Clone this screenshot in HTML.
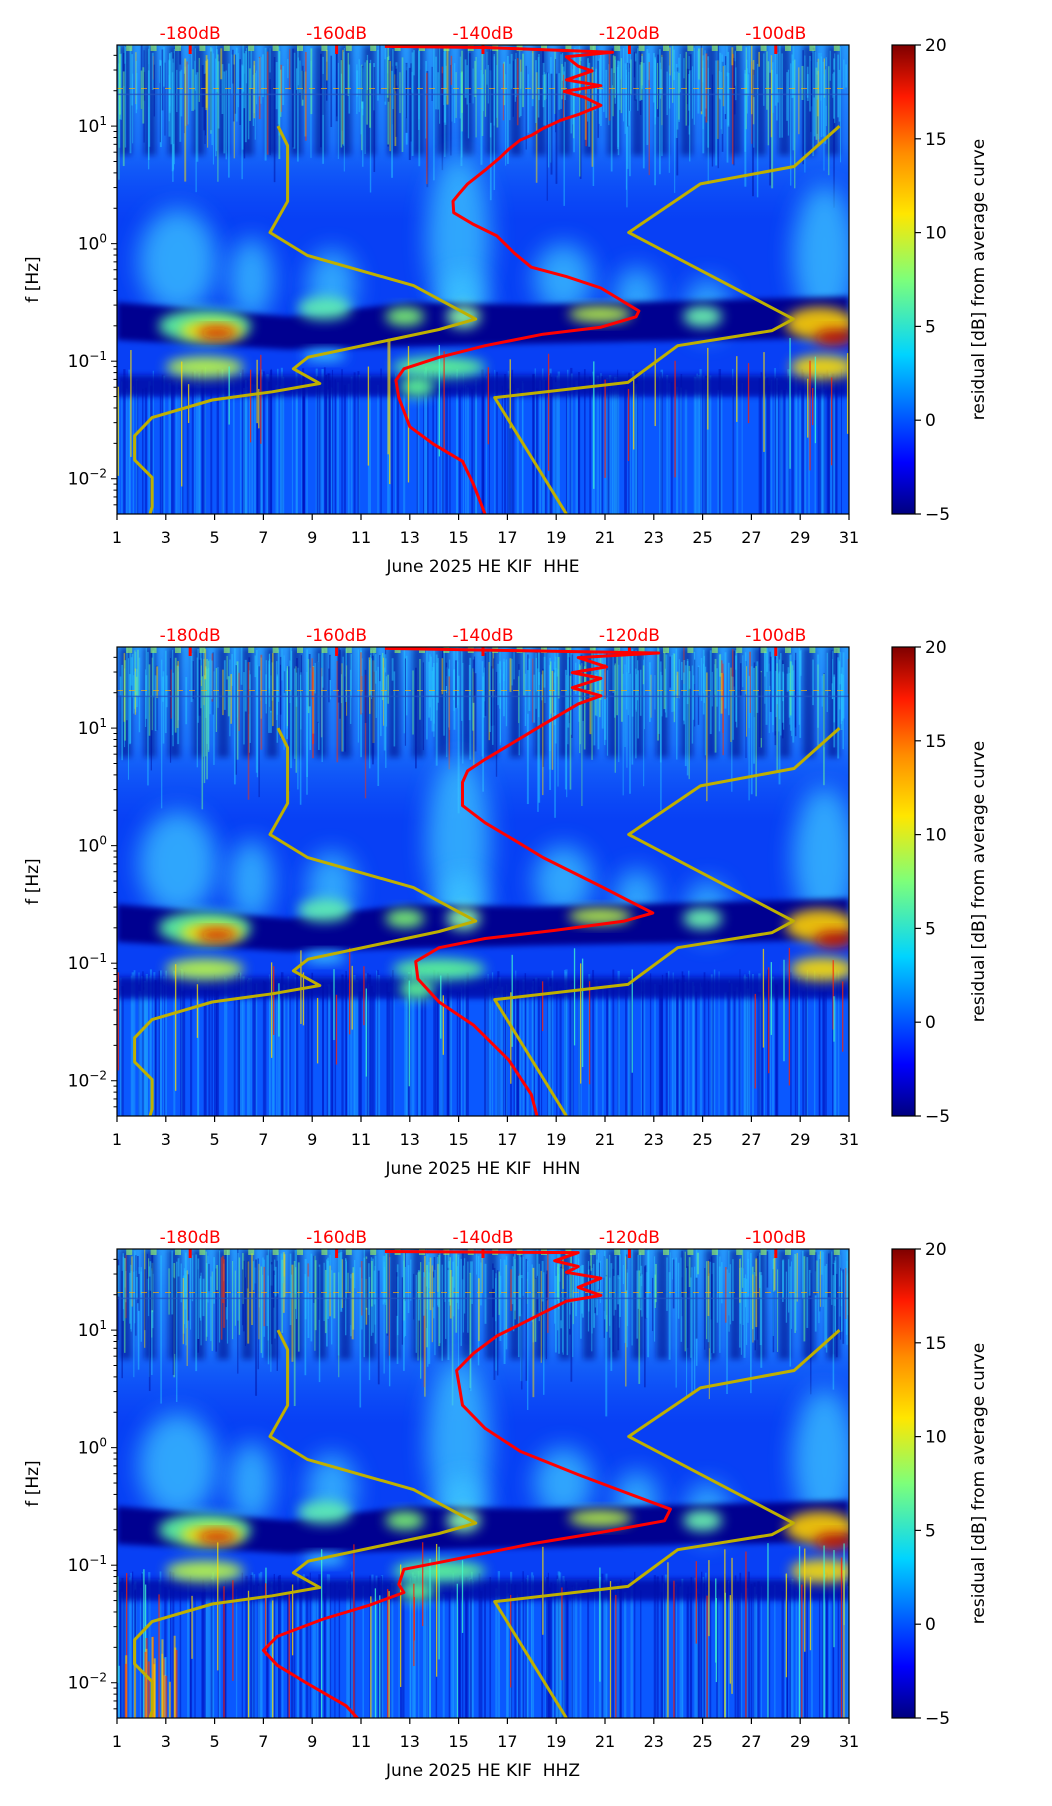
<!DOCTYPE html>
<html><head><meta charset="utf-8"><style>
html,body{margin:0;padding:0;background:#fff;width:1052px;height:1806px;overflow:hidden;}
svg{display:block;font-family:"DejaVu Sans","Liberation Sans",sans-serif;}
</style></head><body>
<svg id="fig" width="1052" height="1806" viewBox="0 0 1052 1806" xmlns="http://www.w3.org/2000/svg">
<defs>
<filter id="b6" x="-50%" y="-50%" width="200%" height="200%"><feGaussianBlur stdDeviation="6"/></filter>
<filter id="b12" x="-50%" y="-50%" width="200%" height="200%"><feGaussianBlur stdDeviation="12"/></filter>
<filter id="b3" x="-50%" y="-50%" width="200%" height="200%"><feGaussianBlur stdDeviation="3"/></filter>
<filter id="b2" x="-50%" y="-50%" width="200%" height="200%"><feGaussianBlur stdDeviation="2"/></filter>
<linearGradient id="jet" x1="0" y1="1" x2="0" y2="0">
<stop offset="0" stop-color="#00007f"/><stop offset="0.11" stop-color="#0000ff"/><stop offset="0.34" stop-color="#00d4ff"/>
<stop offset="0.5" stop-color="#7dff7a"/><stop offset="0.64" stop-color="#ffe600"/><stop offset="0.77" stop-color="#ff8c00"/>
<stop offset="0.89" stop-color="#ff1a00"/><stop offset="1" stop-color="#7f0000"/></linearGradient>
<linearGradient id="topfade" x1="0" y1="0" x2="0" y2="1">
<stop offset="0" stop-color="#30b8ff" stop-opacity="0.75"/><stop offset="0.55" stop-color="#2aa0ff" stop-opacity="0.5"/><stop offset="1" stop-color="#1a70ff" stop-opacity="0"/></linearGradient>
<linearGradient id="streakfade" x1="0" y1="0" x2="0" y2="1">
<stop offset="0" stop-color="#000" stop-opacity="0"/><stop offset="1" stop-color="#000" stop-opacity="0"/></linearGradient>
</defs>
</svg>
<script>
// ---- data ----
const days = [1,3,5,7,9,11,13,15,17,19,21,23,25,27,29,31];
const yTickExp = [-2,-1,0,1];
const dbTicks = [-180,-160,-140,-120,-100];
const cbTicks = [-5,0,5,10,15,20];
const channels = ["HHE","HHN","HHZ"];
// Peterson low noise model (dB, log10 Hz)
const nlnmDb = [-168.0,-166.7,-166.7,-169.1,-164.0,-149.5,-141.0,-146.0,-163.9,-165.9,-162.3,-168.8,-177.0,-185.2,-187.6,-187.6,-185.2,-185.2,-185.5];
const nlnmLogF = [1,0.833,0.36,0.095,-0.10,-0.357,-0.642,-0.73,-0.966,-1.065,-1.19,-1.26,-1.33,-1.48,-1.635,-1.84,-1.99,-2.24,-2.304];
// Peterson high noise model
const nhnmDb = [-91.3,-97.5,-110.3,-120.1,-97.6,-100.5,-113.4,-120.2,-138.4,-128.6];
const nhnmLogF = [1,0.656,0.508,0.095,-0.642,-0.74,-0.868,-1.18,-1.31,-2.30];
// average PSD per channel
const psdDbE = [-153.4,-139.7,-122.3,-128.6,-127.0,-125.1,-128.6,-123.9,-128.9,-126.2,-123.9,-127.0,-129.4,-131.8,-133.4,-134.9,-136.5,-137.8,-139.7,-142.1,-143.2,-144.1,-144.0,-141.3,-138.1,-135.7,-133.4,-128.6,-123.9,-118.7,-119.1,-123.9,-131.8,-139.7,-146.0,-150.8,-151.9,-151.5,-150.0,-146.8,-142.8,-141.3,-139.7];
const psdLogFE = [1.678,1.669,1.629,1.59,1.51,1.47,1.393,1.344,1.295,1.246,1.177,1.098,1.049,0.98,0.921,0.882,0.803,0.725,0.626,0.508,0.43,0.361,0.263,0.164,0.066,-0.082,-0.2,-0.28,-0.377,-0.573,-0.622,-0.711,-0.77,-0.868,-0.967,-1.065,-1.163,-1.311,-1.557,-1.704,-1.852,-2.048,-2.304];
const psdDbN = [-153.4,-116.0,-127.0,-123.1,-127.8,-123.9,-127.8,-123.9,-127.0,-131.8,-136.5,-139.7,-142.1,-142.8,-142.8,-139.7,-135.7,-131.8,-123.9,-116.8,-120.7,-130.2,-139.7,-146.0,-149.2,-148.9,-146.0,-141.3,-136.5,-133.4,-132.6];
const psdLogFN = [1.678,1.639,1.6,1.521,1.472,1.423,1.344,1.275,1.206,1.029,0.853,0.735,0.636,0.538,0.341,0.194,0.046,-0.101,-0.347,-0.573,-0.642,-0.721,-0.79,-0.868,-0.986,-1.134,-1.33,-1.527,-1.822,-2.117,-2.304];
const psdDbZ = [-153.4,-127.0,-130.2,-127.0,-128.6,-123.9,-127.0,-123.9,-128.6,-131.8,-134.9,-138.1,-141.3,-143.6,-143.2,-142.8,-139.7,-134.9,-127.0,-120.7,-114.4,-115.2,-123.9,-133.4,-139.7,-145.2,-150.8,-151.5,-150.8,-155.5,-161.8,-168.1,-170.0,-168.1,-164.2,-158.7,-157.1];
const psdLogFZ = [1.669,1.659,1.59,1.541,1.492,1.442,1.364,1.295,1.246,1.147,1.049,0.951,0.803,0.656,0.508,0.361,0.164,-0.032,-0.229,-0.377,-0.524,-0.622,-0.721,-0.819,-0.898,-0.967,-1.035,-1.163,-1.232,-1.34,-1.458,-1.606,-1.724,-1.852,-1.999,-2.196,-2.304];
const psdDb = [psdDbE, psdDbN, psdDbZ];
const psdLogF = [psdLogFE, psdLogFN, psdLogFZ];

// ---- layout ----
const NS = "http://www.w3.org/2000/svg";
const svg = document.getElementById('fig');
const L = 117, R = 849, H = 469, tops = [45, 647, 1249];
const LOGMIN = -2.30, LOGMAX = 1.69;
function X(day){ return L + (day-1)/30*(R-L); }
function dbToDay(db){ return 4 + (db+180)*0.3; }
function Xdb(db){ return X(dbToDay(db)); }
function mk(tag, attrs, parent){ const e = document.createElementNS(NS, tag); for (const k in attrs) e.setAttribute(k, attrs[k]); (parent||svg).appendChild(e); return e; }
let seed = 12345;
function rnd(){ seed = (seed*1103515245 + 12345) % 2147483648; return seed/2147483648; }

channels.forEach((ch, pi) => {
  const T = tops[pi];
  const Y = lf => T + (LOGMAX - lf)/(LOGMAX-LOGMIN)*H;
  const g = mk('g', {});
  
  
  const cid = 'clip' + pi;
  const cp = mk('clipPath', {id: cid}, g); mk('rect', {x:L, y:T, width:R-L, height:H}, cp);
  const sp = mk('g', {'clip-path': 'url(#'+cid+')'}, g);
  
  
  // base
  mk('rect', {x:L, y:T, width:R-L, height:H, fill:'#0840f5'}, sp);
  // bottom streak region
  mk('rect', {x:L, y:Y(-1.3), width:R-L, height:Y(LOGMIN)-Y(-1.3), fill:'#0a58ff'}, sp);
  for (let i=0;i<300;i++){ const x = L + rnd()*(R-L); const c = rnd()<0.5?'#1c9cff':'#0014c0';
    mk('rect', {x:x, y:Y(-1.25+rnd()*0.2), width:1+rnd()*1.5, height:H, fill:c, opacity:0.55}, sp); }
  // top textured region
  mk('rect', {x:L, y:T, width:R-L, height:Y(0.2)-T, fill:'url(#topfade)'}, sp);
  for (let d=1; d<31; d++){ mk('rect', {x:X(d+0.1), y:T, width:(R-L)/30*0.5, height:Y(0.75)-T, fill:'#00108a', opacity:0.6, filter:'url(#b3)'}, sp); }
  for (let i=0;i<500;i++){ const x = L + rnd()*(R-L); const r = rnd();
    const c = r<0.6?'#28c8ff':(r<0.72?'#70ff90':(r<0.9?'#0010a0':(r<0.96?'#ffe000':'#ff3000')));
    const len = (Y(0.4+rnd()*0.9)-T)*(0.3+rnd()*0.7);
    mk('rect', {x:x, y:T+rnd()*30, width:1+rnd(), height:len, fill:c, opacity:0.5}, sp); }
  for (let i=0;i<30;i++){ mk('rect', {x:X(1+i+0.5)-3, y:T, width:6, height:6, fill:'#a0ff60', opacity:0.6}, sp); }
  mk('line', {x1:L, x2:R, y1:Y(1.32), y2:Y(1.32), stroke:'#ffb000', 'stroke-width':1, 'stroke-dasharray':'6 6', opacity:0.7}, sp);
  mk('line', {x1:L, x2:R, y1:Y(1.27), y2:Y(1.27), stroke:'#2050c0', 'stroke-width':1.5, opacity:0.7}, sp);
  // cyan clouds
  const clouds = [[3.5,-0.15,1.6,0.45],[6.5,-0.3,0.9,0.35],[9.8,-0.35,1.0,0.3],[15,0.05,1.3,0.7],[15.2,-0.5,1.0,0.25],[19.3,-0.3,1.2,0.3],[22.3,-0.45,0.9,0.25],[25.2,-0.55,0.9,0.25],[30,-0.1,1.3,0.6]];
  clouds.forEach(c => mk('ellipse', {cx:X(c[0]), cy:Y(c[1]), rx:c[2]*24.4, ry:c[3]*117, fill:'#3cc8ff', opacity:0.75, filter:'url(#b12)'}, sp));
  // dark band
  mk('path', {d:`M${X(1)},${Y(-0.5)} L${X(8)},${Y(-0.62)} L${X(13)},${Y(-0.5)} L${X(18)},${Y(-0.52)} L${X(31)},${Y(-0.45)} L${X(31)},${Y(-0.8)} L${X(18)},${Y(-0.85)} L${X(8)},${Y(-0.9)} L${X(1)},${Y(-0.82)} Z`, fill:'#000590', filter:'url(#b3)'}, sp);
  mk('path', {d:`M${X(1)},${Y(-1.12)} L${X(31)},${Y(-1.12)} L${X(31)},${Y(-1.3)} L${X(1)},${Y(-1.3)} Z`, fill:'#0010a8', opacity:0.85, filter:'url(#b3)'}, sp);
  // band blobs
  const blobs = [[4.6,-0.7,1.9,0.14,'#60ffa0'],[4.9,-0.74,1.3,0.08,'#ffe000'],[5.1,-0.76,0.8,0.05,'#d00800'],[9.5,-0.55,1.1,0.1,'#60f0b0'],[12.8,-0.62,0.8,0.08,'#80ff70'],[15.2,-0.62,0.7,0.1,'#90ffa0'],[20.8,-0.6,1.3,0.07,'#c0ff40'],[25,-0.62,0.8,0.09,'#70ffb0'],[29.8,-0.68,1.4,0.14,'#ffd000'],[30.4,-0.8,0.8,0.07,'#c00800'],
    [4.6,-1.05,1.6,0.09,'#c0ff40'],[14.2,-1.05,1.9,0.09,'#60ff90'],[13.3,-1.22,0.7,0.09,'#60ff90'],[29.9,-1.05,1.3,0.1,'#ffe000'],[9.5,-0.95,0.9,0.05,'#40d0ff']];
  blobs.forEach(b => mk('ellipse', {cx:X(b[0]), cy:Y(b[1]), rx:b[2]*24.4, ry:b[3]*117, fill:b[4], opacity:0.9, filter:'url(#b6)'}, sp));
  // spikes
  for (let i=0;i<(pi==2?60:35);i++){ const x = L + rnd()*(R-L); const r=rnd(); const c = r<0.35?'#ff2000':(r<0.7?'#ffe000':'#40ffd0');
    const y0 = Y(-0.8 - rnd()*0.5); const y1 = pi==2 && rnd()<0.5 ? Y(LOGMIN) : Y(-1.5-rnd()*0.6);
    mk('rect', {x:x, y:y0, width:1.3, height:y1-y0, fill:c, opacity:0.75}, sp); }
  if (pi==2){ for (let i=0;i<25;i++){ const x=X(1+rnd()*2.6); mk('rect',{x:x,y:Y(-1.6-rnd()*0.4),width:2,height:H,fill:rnd()<0.5?'#ffd000':(rnd()<0.5?'#ff3000':'#40e0ff'),opacity:0.6},sp);} }
  // model curves
  function poly(dbs, lfs, color, w, name){
    const p = dbs.map((d,i)=>Xdb(d).toFixed(1)+','+Y(lfs[i]).toFixed(1)).join(' ');
    const e = mk('polyline', {points:p, fill:'none', stroke:color, 'stroke-width':w, 'stroke-linejoin':'round'}, sp);
    
    
  }
  poly(nlnmDb, nlnmLogF, '#bfb000', 3, 'nlnm-curve');
  poly(nhnmDb, nhnmLogF, '#bfb000', 3, 'nhnm-curve');
  poly(psdDb[pi], psdLogF[pi], '#ff0000', 3, 'average-psd-curve');
  // red top ticks
  dbTicks.forEach(d => mk('line', {x1:Xdb(d), x2:Xdb(d), y1:T, y2:T+9, stroke:'#ff0000', 'stroke-width':3}, g));
  // frame
  mk('rect', {x:L, y:T, width:R-L, height:H, fill:'none', stroke:'#000', 'stroke-width':1.2}, g);
  // x ticks
  days.forEach(d => { mk('line', {x1:X(d), x2:X(d), y1:T+H, y2:T+H+6, stroke:'#000', 'stroke-width':1.2}, g);
    const t = mk('text', {x:X(d), y:T+H+29, 'text-anchor':'middle', 'font-size':16, fill:'#000'}, g); t.textContent = d;
    
     });
  const xt = mk('text', {x:(L+R)/2, y:T+H+58, 'text-anchor':'middle', 'font-size':17, fill:'#000'}, g);
  xt.textContent = 'June 2025 HE KIF\u00a0\u00a0' + ch;
  
  
  // y ticks
  for (let e=-3;e<=1;e++){ for (let m=1;m<10;m++){ const lf = e + Math.log10(m); if (lf<LOGMIN||lf>LOGMAX) continue;
      mk('line', {x1:L-(m==1?6:3.5), x2:L, y1:Y(lf), y2:Y(lf), stroke:'#000', 'stroke-width':1}, g); } }
  yTickExp.forEach(e => { const t = mk('text', {x:L-10, y:Y(e)+6, 'text-anchor':'end', 'font-size':17, fill:'#000'}, g);
    t.innerHTML = '10<tspan dy="-7" font-size="12">' + (e<0?'\u2212':'') + Math.abs(e) + '</tspan>';
    
     });
  const yt = mk('text', {x:0, y:0, 'text-anchor':'middle', 'font-size':17, fill:'#000', transform:`translate(38,${T+H/2}) rotate(-90)`}, g);
  yt.textContent = 'f [Hz]';
  
  
  dbTicks.forEach(d => { const t = mk('text', {x:Xdb(d), y:T-6, 'text-anchor':'middle', 'font-size':17, fill:'#ff0000'}, g);
    t.textContent = d + 'dB';
    
     });
  // colorbar
  const cb = mk('g', {}, g);
  
  
  mk('rect', {x:892, y:T, width:23, height:H, fill:'url(#jet)', stroke:'#000', 'stroke-width':1.2}, cb);
  cbTicks.forEach(v => { const y = T + H - (v+5)/25*H;
    mk('line', {x1:915, x2:921, y1:y, y2:y, stroke:'#000', 'stroke-width':1.2}, cb);
    const t = mk('text', {x:925, y:y+6, 'font-size':17, fill:'#000'}, cb); t.textContent = v<0?'\u2212'+Math.abs(v):v;
    
     });
  const ct = mk('text', {x:0, y:0, 'text-anchor':'middle', 'font-size':17, fill:'#000', transform:`translate(984,${T+H/2}) rotate(-90)`}, cb);
  ct.textContent = 'residual [dB] from average curve';
  
  
});
</script>
</body></html>
